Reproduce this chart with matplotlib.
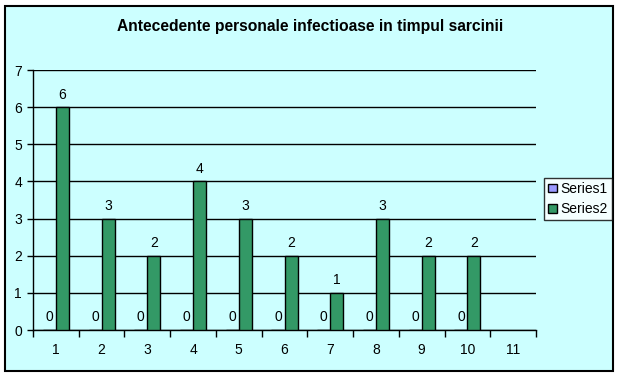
import matplotlib
matplotlib.use("Agg")
import matplotlib.pyplot as plt
from matplotlib.patches import Rectangle, Patch
import numpy as np

plt.rcParams['font.family'] = ['Liberation Sans', 'DejaVu Sans']

title = "Antecedente personale infectioase in timpul sarcinii"
categories = ["1", "2", "3", "4", "5", "6", "7", "8", "9", "10", "11"]
series1 = [0, 0, 0, 0, 0, 0, 0, 0, 0, 0, None]
series2 = [6, 3, 2, 4, 3, 2, 1, 3, 2, 2, None]
series_names = ["Series1", "Series2"]
yticks = [0, 1, 2, 3, 4, 5, 6, 7]

W, H = 619, 377
bg = "#CCFFFF"
c1 = "#9999FF"
c2 = "#339966"
fs = 10

fig = plt.figure(figsize=(W / 100, H / 100), dpi=100)
fig.patch.set_facecolor("white")

# chart area background + border
bgax = fig.add_axes([0, 0, 1, 1], zorder=-10)
bgax.set_xlim(0, W)
bgax.set_ylim(H, 0)
bgax.axis("off")
bgax.add_patch(Rectangle((5, 5.5), 613 - 5, 371 - 5.5, facecolor=bg,
                         edgecolor="black", linewidth=1.5))

left, right, top, bottom = 33, 536, 70, 330
ax = fig.add_axes([left / W, 1 - bottom / H, (right - left) / W, (bottom - top) / H], zorder=1)
ax.patch.set_alpha(0)

x = np.arange(len(categories))
bw = 1 / 3.5
for i, (v1, v2) in enumerate(zip(series1, series2)):
    if v1 is not None:
        ax.bar(x[i] - bw / 2, v1, bw, color=c1, edgecolor="black", linewidth=1, zorder=3)
        ax.text(x[i] - bw / 2, v1 + 0.15, str(v1), ha="center", va="bottom", fontsize=fs, zorder=4)
    if v2 is not None:
        ax.bar(x[i] + bw / 2, v2, bw, color=c2, edgecolor="black", linewidth=1, zorder=3)
        ax.text(x[i] + bw / 2, v2 + 0.15, str(v2), ha="center", va="bottom", fontsize=fs, zorder=4)

ax.set_xlim(-0.5, len(categories) - 0.5)
ax.set_ylim(0, 7)
ax.set_yticks(yticks)
ax.yaxis.grid(True, color="black", linewidth=1)
ax.set_axisbelow(True)
for s in ["top", "right"]:
    ax.spines[s].set_visible(False)
ax.spines["left"].set_linewidth(1)
ax.spines["bottom"].set_linewidth(1)
ax.set_xticks(x)
ax.set_xticklabels(categories)
ax.set_xticks(np.arange(-0.5, len(categories)), minor=True)
ax.tick_params(axis="x", which="major", length=0, pad=9, labelsize=fs)
ax.tick_params(axis="x", which="minor", length=5, direction="out", width=1)
ax.tick_params(axis="y", length=4, direction="out", width=1, labelsize=fs, pad=4)

fig.text(310 / W, 1 - 27 / H, title, ha="center", va="center", fontsize=11.25, fontweight="bold")

handles = [Patch(facecolor=c1, edgecolor="black", label=series_names[0]),
           Patch(facecolor=c2, edgecolor="black", label=series_names[1])]
leg = fig.legend(handles=handles, loc="center left", bbox_to_anchor=(544 / W, 1 - 199 / H),
                 frameon=True, fancybox=False, fontsize=fs, handlelength=0.6, handleheight=0.6,
                 handletextpad=0.25, borderpad=0.3, borderaxespad=0, labelspacing=0.45)
leg.get_frame().set_edgecolor("black")
leg.get_frame().set_linewidth(1)
leg.get_frame().set_facecolor("white")

fig.savefig("out.png", dpi=100)
